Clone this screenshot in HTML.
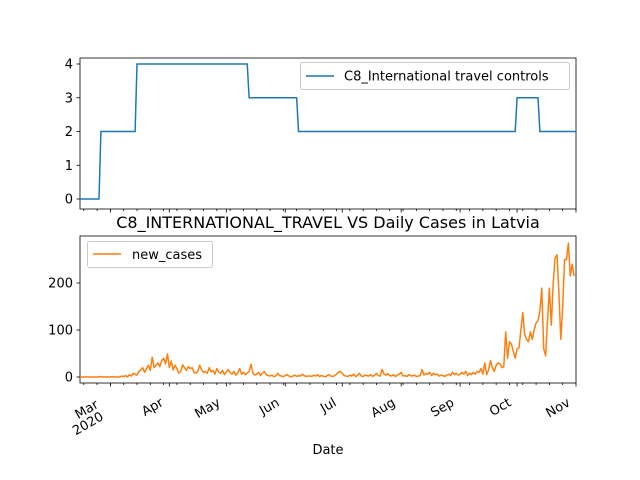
<!DOCTYPE html>
<html><head><meta charset="utf-8"><style>
body{margin:0;background:#fff}
svg{display:block;font-family:"DejaVu Sans","Liberation Sans",sans-serif}
</style></head><body>
<svg id="chart" width="640" height="480" viewBox="0 0 640 480" xmlns="http://www.w3.org/2000/svg">
<rect width="640" height="480" fill="#fff"/>
<g id="top"></g>
<g id="bot"></g>
</svg>
<script>
const monthLabels = ["Mar","Apr","May","Jun","Jul","Aug","Sep","Oct","Nov"];
const monthDays = [16,47,77,108,138,169,200,230,261];
const stepStarts = [0,11,30,89,115,230,242];
const stepValues = [0,2,4,3,2,3,2];
const topTicks = [0,1,2,3,4];
const botTicks = [0,100,200];
const newCases = [
0,0,0,0,0,0,0,0,0,0, 0,1,0,0,0,0,0,1,0,0, 0,
0,2,1,3,0,5,2,8,6,4,
12,15,20,10,18,25,14,42,20,25,
30,22,35,40,28,49,20,34,15,25,
18,8,12,26,20,14,22,18,20,10,
8,12,25,15,10,12,8,20,11,14,
6,18,10,8,14,5,10,16,9,6,
12,4,8,18,6,10,5,8,12,27,
8,4,6,10,3,8,12,5,3,2,
4,1,2,8,3,2,1,3,5,2,
0,2,4,1,3,2,6,3,1,2,
2,1,4,2,5,1,3,2,0,3,
5,2,1,3,6,10,12,8,3,2,
1,4,2,6,1,3,8,2,1,4,
3,2,5,1,4,8,3,2,16,6,
4,7,3,2,5,1,4,6,10,2,
3,1,5,3,2,4,1,2,3,16,
4,8,6,10,3,8,5,6,2,4,
3,1,4,6,3,10,5,8,4,6,
10,6,12,3,8,5,10,6,12,10,
18,6,30,5,15,35,20,12,25,30,
28,20,22,96,40,75,70,55,40,60,
62,100,137,90,80,75,96,80,100,115,
120,140,189,60,45,120,189,110,200,253,
260,180,80,150,250,250,285,215,240,215];

const NS="http://www.w3.org/2000/svg";
function mk(tag,attrs,parent){const e=document.createElementNS(NS,tag);for(const k in attrs)e.setAttribute(k,attrs[k]);parent.appendChild(e);return e;}
const X0=80,X1=576,D0=0,D1=261;
const xs=d=>X0+(d-D0)/(D1-D0)*(X1-X0);
const topY=v=>199-v*33.75;
const botY=v=>377-v*0.47;

function axes(g,yTop,yBot,name){
  for(let d=2;d<D1;d+=7){const l=mk('line',{x1:xs(d),x2:xs(d),y1:yBot,y2:yBot+2,stroke:'#000','stroke-width':0.8},g);
  }
  monthDays.forEach(d=>{const l=mk('line',{x1:xs(d),x2:xs(d),y1:yBot,y2:yBot+3.5,stroke:'#000','stroke-width':0.8},g);
  });
  const r=mk('rect',{x:X0,y:yTop,width:X1-X0,height:yBot-yTop,fill:'none',stroke:'#000','stroke-width':0.8},g);
  
}
// TOP
const gt=document.getElementById('top');
axes(gt,58,209,'top-axes');
topTicks.forEach(v=>{const y=topY(v);
 const l=mk('line',{x1:X0-3.5,x2:X0,y1:y,y2:y,stroke:'#000','stroke-width':0.8},gt);
 
 const t=mk('text',{x:X0-7,y:y+4.5,'text-anchor':'end','font-size':13},gt);t.textContent=v;
 });
let pts=[];
for(let i=0;i<stepStarts.length;i++){const s=stepStarts[i],e=i+1<stepStarts.length?stepStarts[i+1]:D1;
 if(i>0)pts.push([xs(s-1),topY(stepValues[i-1])]);
 pts.push([xs(s),topY(stepValues[i])]);
 if(i+1===stepStarts.length)pts.push([xs(e),topY(stepValues[i])]);}
const tl=mk('polyline',{points:pts.map(p=>p.join(',')).join(' '),fill:'none',stroke:'#1f77b4','stroke-width':1.5},gt);

const lg1=mk('g',{},gt);
mk('rect',{x:300.5,y:62.5,width:269,height:27,rx:2,fill:'#fff',stroke:'#ccc'},lg1);
mk('line',{x1:306,x2:334,y1:76,y2:76,stroke:'#1f77b4','stroke-width':1.5},lg1);
const lt1=mk('text',{x:344,y:80.5,'font-size':13},lg1);lt1.textContent='C8_International travel controls';
// BOTTOM
const gb=document.getElementById('bot');
const ti=mk('text',{x:328,y:228,'text-anchor':'middle','font-size':16},gb);ti.textContent='C8_INTERNATIONAL_TRAVEL VS Daily Cases in Latvia';

axes(gb,236,383,'bottom-axes');
botTicks.forEach(v=>{const y=botY(v);
 const l=mk('line',{x1:X0-3.5,x2:X0,y1:y,y2:y,stroke:'#000','stroke-width':0.8},gb);
 
 const t=mk('text',{x:X0-7,y:y+4.5,'text-anchor':'end','font-size':13},gb);t.textContent=v;
 });
const cl=mk('polyline',{points:newCases.map((v,i)=>xs(i)+','+botY(v)).join(' '),fill:'none',stroke:'#ff7f0e','stroke-width':1.5,'stroke-linejoin':'round'},gb);

monthDays.forEach((d,i)=>{
 const x=i===0?xs(d)-11:xs(d)-5, y=i===0?407:405;
 const t=mk('text',{transform:`translate(${x},${y}) rotate(-30)`,'text-anchor':'end','font-size':13},gb);
 t.textContent=monthLabels[i];
 
 if(i===0){const t2=mk('text',{transform:`translate(${xs(d)-6},${419}) rotate(-30)`,'text-anchor':'end','font-size':13},gb);t2.textContent='2020';
 }});
const xt=mk('text',{x:328,y:454,'text-anchor':'middle','font-size':13},gb);xt.textContent='Date';

const lg2=mk('g',{},gb);
mk('rect',{x:87.5,y:241.5,width:125,height:26,rx:2,fill:'#fff',stroke:'#ccc'},lg2);
mk('line',{x1:93,x2:121,y1:254,y2:254,stroke:'#ff7f0e','stroke-width':1.5},lg2);
const lt2=mk('text',{x:132,y:259,'font-size':13},lg2);lt2.textContent='new_cases';
</script>
</body></html>
